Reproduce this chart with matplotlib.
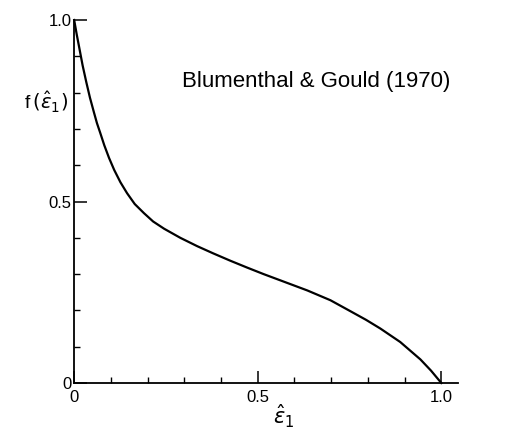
import matplotlib.pyplot as plt

plt.rcParams['font.family'] = ['Liberation Sans', 'DejaVu Sans']
plt.rcParams['mathtext.fontset'] = 'dejavusans'

# curve
eps = [0.0, 0.007, 0.014, 0.023, 0.033, 0.043, 0.054, 0.062, 0.071, 0.082,
       0.095, 0.109, 0.126, 0.144, 0.165, 0.19, 0.215, 0.245, 0.289, 0.335,
       0.379, 0.425, 0.471, 0.516, 0.561, 0.635, 0.698, 0.752, 0.795, 0.834,
       0.888, 0.943, 0.972, 1.0]
f_eps = [1.0, 0.96, 0.923, 0.875, 0.829, 0.786, 0.745, 0.716, 0.689, 0.655,
         0.62, 0.587, 0.553, 0.523, 0.493, 0.468, 0.445, 0.425, 0.400, 0.377,
         0.357, 0.337, 0.318, 0.300, 0.283, 0.255, 0.228, 0.198, 0.174, 0.150,
         0.113, 0.065, 0.034, 0.0]

major_ticks = [0, 0.5, 1.0]
major_labels = ['0', '0.5', '1.0']
minor_ticks = [0.1, 0.2, 0.3, 0.4, 0.6, 0.7, 0.8, 0.9]

fig = plt.figure(figsize=(5.08, 4.32), dpi=100)
ax = fig.add_axes([0.146, 0.1134, 0.756, 0.8403])

ax.plot(eps, f_eps, color='black', linewidth=1.6, clip_on=False,
        solid_joinstyle='round')

ax.set_xlim(0, 1.046)
ax.set_ylim(0, 1.0)

ax.spines['right'].set_visible(False)
ax.spines['top'].set_visible(False)
ax.spines['left'].set_linewidth(1.3)
ax.spines['bottom'].set_linewidth(1.3)

ax.set_xticks(major_ticks)
ax.set_xticklabels(major_labels)
ax.set_yticks(major_ticks)
ax.set_yticklabels(major_labels)
ax.set_xticks(minor_ticks, minor=True)
ax.set_yticks(minor_ticks, minor=True)

ax.tick_params(which='major', direction='in', length=9, width=1.1,
               labelsize=12, pad=3)
ax.tick_params(which='minor', direction='in', length=4.5, width=1.0)
ax.tick_params(axis='y', which='major', pad=2)
ax.tick_params(axis='x', which='major', pad=5)

fig.text(46 / 508, 1 - 102 / 432, r'f$\,(\hat{\varepsilon}_1)$', fontsize=14,
         ha='center', va='center')
fig.text(284 / 508, 1 - 416 / 432, r'$\hat{\varepsilon}_1$', fontsize=15,
         ha='center', va='center')
fig.text(182 / 508, 1 - 82 / 432, 'Blumenthal & Gould (1970)', fontsize=16,
         ha='left', va='center')

plt.savefig('out.png', dpi=100)
